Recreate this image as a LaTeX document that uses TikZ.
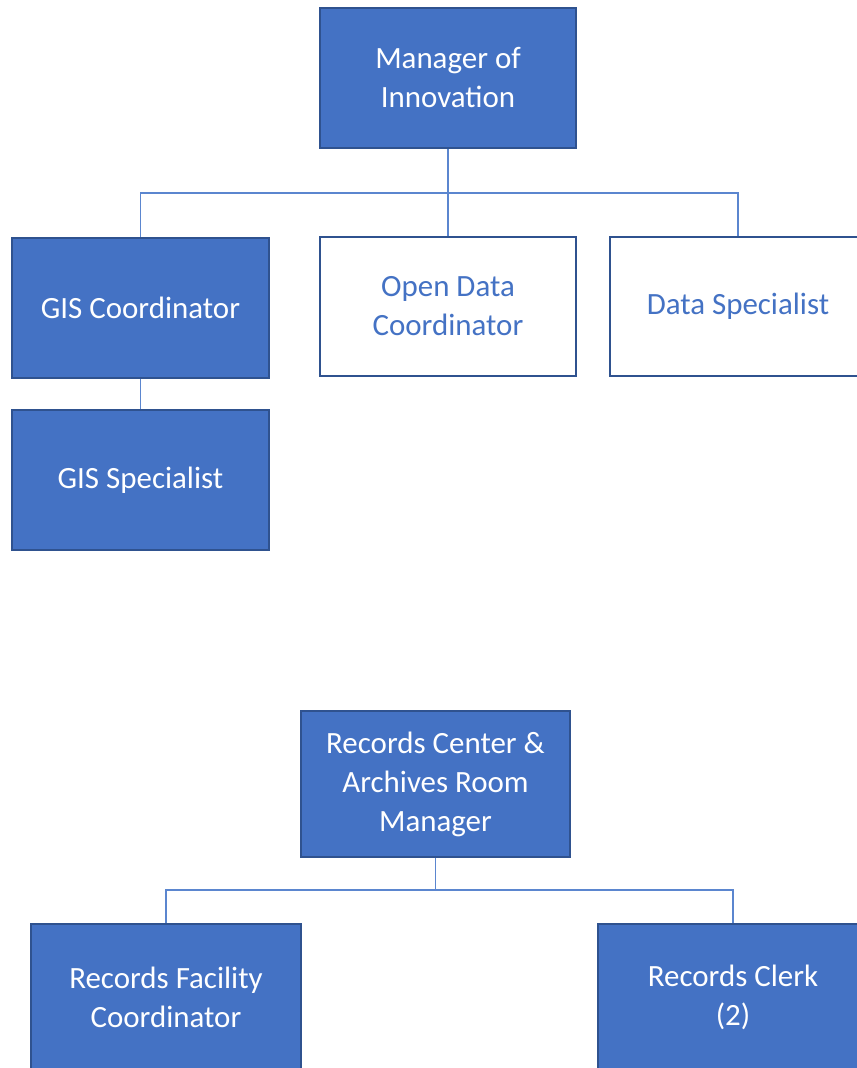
\documentclass[tikz,border=0pt]{standalone}
\usepackage{fontspec}
\setmainfont{Carlito}
\usepackage{tikz}
\usetikzlibrary{positioning}
\definecolor{boxblue}{HTML}{4472C4}
\definecolor{boxline}{HTML}{2F528F}
\definecolor{linkblue}{HTML}{5B86CF}
\begin{document}
\begin{tikzpicture} [x=0.02cm, y=-0.02cm, semithick,
	role/.style ={rectangle, draw=boxline, fill=boxblue, text=white, align=center, line width=0.9pt,
		font=\fontsize{17.6}{22.2}\selectfont, inner sep=0pt},
	openrole/.style ={role, fill=white, text=boxblue},
	link/.style ={draw=linkblue, line width=1.1pt}]
	\useasboundingbox (0,0) rectangle (857,1068);
	\clip (0,0) rectangle (857,1068);
	\node[role, minimum width=5.12cm, minimum height=2.8cm] (MI) at (448,78) {Manager of\\Innovation};
	\node[role, minimum width=5.14cm, minimum height=2.8cm] (GC) at (140.5,308) {GIS Coordinator};
	\node[openrole, minimum width=5.12cm, minimum height=2.78cm] (OD) at (448,306.5) {Open Data\\Coordinator};
	\node[openrole, minimum width=5.12cm, minimum height=2.78cm] (DS) at (738,306.5) {Data Specialist};
	\node[role, minimum width=5.14cm, minimum height=2.8cm] (GS) at (140.5,480) {GIS Specialist};
	\coordinate (B1) at (448,193);
	\path[link] (MI.south) -- (B1) -| (GC.north);
	\path[link] (B1) -| (OD.north);
	\path[link] (B1) -| (DS.north);
	\path[link] (GC.south) -- (GS.north);
	\node[role, minimum width=5.38cm, minimum height=2.92cm] (RM) at (435.5,784) {Records Center \&\\Archives Room\\Manager};
	\node[role, minimum width=5.4cm, minimum height=2.92cm] (RF) at (166,997) {Records Facility\\Coordinator};
	\node[role, minimum width=5.4cm, minimum height=2.92cm] (RC) at (733,997) {Records Clerk\\(2)};
	\coordinate (B2) at (435.5,890);
	\path[link] (RM.south) -- (B2) -| (RF.north);
	\path[link] (B2) -| (RC.north);
\end{tikzpicture}
\end{document}
